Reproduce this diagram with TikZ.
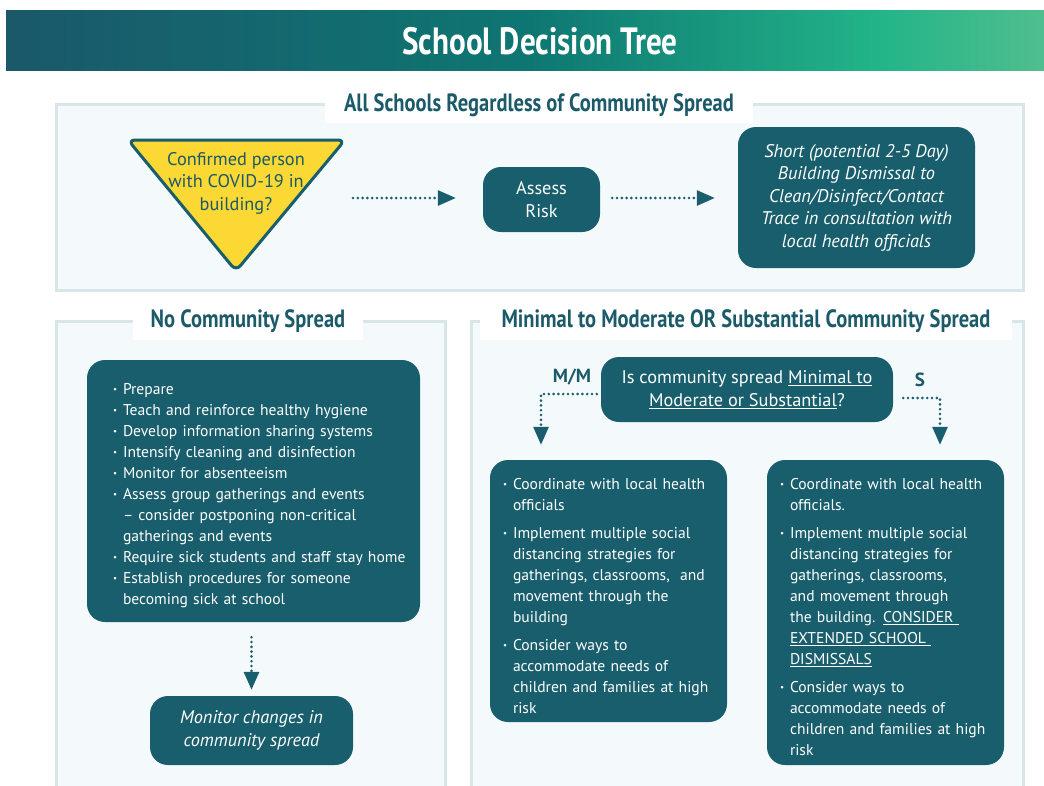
\documentclass[tikz,border=0pt]{standalone}
\usepackage{fontspec}
\setmainfont{PT Sans}
\newfontfamily\headfont[FakeStretch=0.82]{PT Sans}
\usetikzlibrary{arrows.meta}
\definecolor{boxteal}{RGB}{24,94,109}
\definecolor{headteal}{RGB}{27,90,105}
\definecolor{triyellow}{RGB}{251,216,52}
\definecolor{panelfill}{RGB}{244,249,251}
\definecolor{panelline}{RGB}{217,230,233}
\definecolor{ga}{RGB}{26,88,106}
\definecolor{gb}{RGB}{14,118,114}
\definecolor{gc}{RGB}{34,180,136}
\definecolor{gd}{RGB}{80,190,142}
\pgfdeclarehorizontalshading{titlegrad}{100bp}{color(0bp)=(ga); color(25bp)=(ga); color(50bp)=(gb); color(67bp)=(gc); color(75bp)=(gd); color(100bp)=(gd)}
\newcommand\bul{\raisebox{0.28ex}{\fontsize{9}{9}\selectfont\textbullet}}
\newcommand\li[2][0pt]{\par\vspace{#1}\noindent\rightskip=-100pt plus 1fil\hangindent=10pt\hangafter=1\makebox[10pt][l]{\bul}#2\par}
\hfuzz=200pt \hbadness=10000
\begin{document}
\begin{tikzpicture}[x=1pt,y=-1pt,
  panel/.style={fill=panelfill, draw=panelline, line width=3pt},
  heading/.style={fill=white, text=headteal, font=\headfont\bfseries\fontsize{25}{27}\selectfont, inner sep=0pt},
  box/.style={fill=boxteal, text=white, rounded corners=18pt, inner sep=0pt, align=center, font=\fontsize{18.3}{22.5}\selectfont},
  listbox/.style={fill=boxteal, text=white, rounded corners=18pt, inner ysep=0pt, align=left, font=\fontsize{15.6}{21}\selectfont},
  dotarrow/.style={draw=boxteal, line width=2.9pt, line cap=round, dash pattern=on 0pt off 4.8pt, -{Triangle[length=18pt,width=15pt]}},
  lab/.style={text=headteal, font=\bfseries\fontsize{19}{22}\selectfont}
]
\path[use as bounding box] (0,0) rectangle (1044,785);
\fill[white] (0,0) rectangle (1044,785);
% title bar
\shade[shading=titlegrad] (6,10) rectangle (1044,70);
\node[text=white, font=\headfont\bfseries\fontsize{38}{40}\selectfont] (title) at (540,41) {School Decision Tree};
% panels
\draw[panel] (56,104) rectangle (1023,290);
\node[heading, minimum width=428pt, minimum height=35pt] (h1) at (539,105.5) {All Schools Regardless of Community Spread};
\draw[panel] (56,321) rectangle (445,800);
\node[heading, minimum width=230pt, minimum height=37pt] (h2) at (248,321) {No Community Spread};
\draw[panel] (471,321) rectangle (1023,800);
\node[heading, minimum width=532pt, minimum height=37pt] (h3) at (746,321) {Minimal to Moderate OR Substantial Community Spread};
% triangle
\draw[line width=3pt, draw=boxteal, fill=triyellow, rounded corners=7pt] (128,140) -- (345,140) -- (236,271) -- cycle;
\node[text=headteal, align=center, font=\fontsize{18.3}{22.5}\selectfont] (tri) at (236,183) {Confirmed person\\with COVID-19 in\\building?};
\node[box, minimum width=117pt, minimum height=65pt] (assess) at (541.5,199.5) {Assess\\Risk};
\node[box, minimum width=237pt, minimum height=141pt, font=\itshape\fontsize{18.3}{22.5}\selectfont] (short) at (856.5,197.5) {Short (potential 2-5 Day)\\Building Dismissal to\\Clean/Disinfect/Contact\\Trace in consultation with\\local health officials};
\coordinate (a1s) at (353,198);
\draw[dotarrow, shorten >=27pt] (a1s) -- (a1s -| assess.west);
\draw[dotarrow, shorten <=12pt, shorten >=23pt] (a1s -| assess.east) -- (a1s -| short.west);
% no community spread
\node[listbox, text width=281pt, inner xsep=26pt, minimum height=262pt] (ncs) at (253.5,491) {%
\li{Prepare}
\li{Teach and reinforce healthy hygiene}
\li{Develop information sharing systems}
\li{Intensify cleaning and disinfection}
\li{Monitor for absenteeism}
\li{Assess group gatherings and events\newline – consider postponing non-critical\newline gatherings and events}
\li{Require sick students and staff stay home}
\li{Establish procedures for someone\newline becoming sick at school}};
\node[box, minimum width=203pt, minimum height=69pt, font=\itshape\fontsize{18.3}{22.5}\selectfont] (mon) at (251.5,730.5) {Monitor changes in\\community spread};
\draw[dotarrow, shorten <=15pt, shorten >=6pt] (ncs.south -| mon.north) -- (mon.north);
% minimal / substantial
\node[box, minimum width=292pt, minimum height=65pt] (q) at (747,389.5) {Is community spread \underline{Minimal to}\\\underline{Moderate or Substantial}?};
\node[lab] (mm) at (572,377) {M/M};
\node[lab] (s) at (920,380) {S};
\node[listbox, text width=211pt, inner xsep=13pt, minimum height=262pt] (mmbox) at (608.5,591) {%
\li{Coordinate with local health\newline officials}
\li[7pt]{Implement multiple social\newline distancing strategies for\newline gatherings, classrooms,~ and\newline movement through the\newline building}
\li[7pt]{Consider ways to\newline accommodate needs of\newline children and families at high\newline risk}};
\node[listbox, text width=211pt, inner xsep=13pt, minimum height=305pt] (sbox) at (885.5,612.5) {%
\li{Coordinate with local health\newline officials.}
\li[7pt]{Implement multiple social\newline distancing strategies for\newline gatherings, classrooms,\newline and movement through\newline the building. \underline{CONSIDER\ }\newline \underline{EXTENDED SCHOOL\ }\newline \underline{DISMISSALS}}
\li[7pt]{Consider ways to\newline accommodate needs of\newline children and families at high\newline risk}};
\coordinate (mmturn) at (541,394);
\coordinate (sturn) at (940,398);
\draw[dotarrow, shorten <=4pt, shorten >=15pt] (q.west |- mmturn) -- (mmturn) -- (mmturn |- mmbox.north);
\draw[dotarrow, shorten <=10pt, shorten >=15pt] (q.east |- sturn) -- (sturn) -- (sturn |- sbox.north);
\end{tikzpicture}
\end{document}
